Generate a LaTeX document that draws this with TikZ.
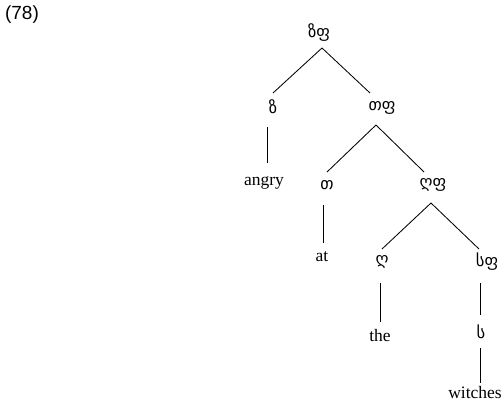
\documentclass[tikz,border=0pt]{standalone}
\usepackage{fontspec}
\setmainfont{Liberation Serif}
\newfontfamily\geofont[Script=Georgian]{DejaVu Sans}
\newfontfamily\labfont{Liberation Sans}
\begin{document}
\begin{tikzpicture}[x=1pt,y=-1pt,
  word/.style={inner sep=0pt, font=\fontsize{17.5}{20}\selectfont},
  geo/.style={inner sep=0pt, font=\geofont\fontsize{16.5}{19}\selectfont},
  edge/.style={line width=0.85pt, black}]
\useasboundingbox (0,0) rectangle (503,404);
\node[inner sep=0pt, font=\labfont\fontsize{19}{22}\selectfont] (num) at (22,15) {(78)};
\node[geo] (ZP) at (319,33) {ზფ};
\node[geo] (Z) at (273,107) {ზ};
\node[geo] (TP) at (382,108) {თფ};
\node[word] (angry) at (264,183) {angry};
\node[geo] (T) at (327,185) {თ};
\node[geo] (GP) at (433,185) {ღფ};
\node[word] (at) at (322,257) {at};
\node[geo] (G) at (382,262) {ღ};
\node[geo] (SP) at (487,262) {სფ};
\node[word] (the) at (380,336) {the};
\node[geo] (S) at (481,332) {ს};
\node[word] (witches) at (475,393) {witches};
\draw[edge] ([shift={(3,15)}]ZP.center) -- ([shift={(0,-14)}]Z.center);
\draw[edge] ([shift={(3,15)}]ZP.center) -- ([shift={(-12,-15)}]TP.center);
\draw[edge] ([shift={(-6,20)}]Z.center) -- ([shift={(3,-20)}]angry.center);
\draw[edge] ([shift={(-6,17)}]TP.center) -- ([shift={(0,-13)}]T.center);
\draw[edge] ([shift={(-6,17)}]TP.center) -- ([shift={(-9,-13)}]GP.center);
\draw[edge] ([shift={(-4,20)}]T.center) -- ([shift={(1,-14)}]at.center);
\draw[edge] ([shift={(-2,18)}]GP.center) -- ([shift={(0,-13)}]G.center);
\draw[edge] ([shift={(-2,18)}]GP.center) -- ([shift={(-8,-13)}]SP.center);
\draw[edge] ([shift={(-2,21)}]G.center) -- ([shift={(0,-14)}]the.center);
\draw[edge] ([shift={(-7,21)}]SP.center) -- ([shift={(-1,-17)}]S.center);
\draw[edge] ([shift={(-1,16)}]S.center) -- ([shift={(5,-10)}]witches.center);
\end{tikzpicture}
\end{document}
